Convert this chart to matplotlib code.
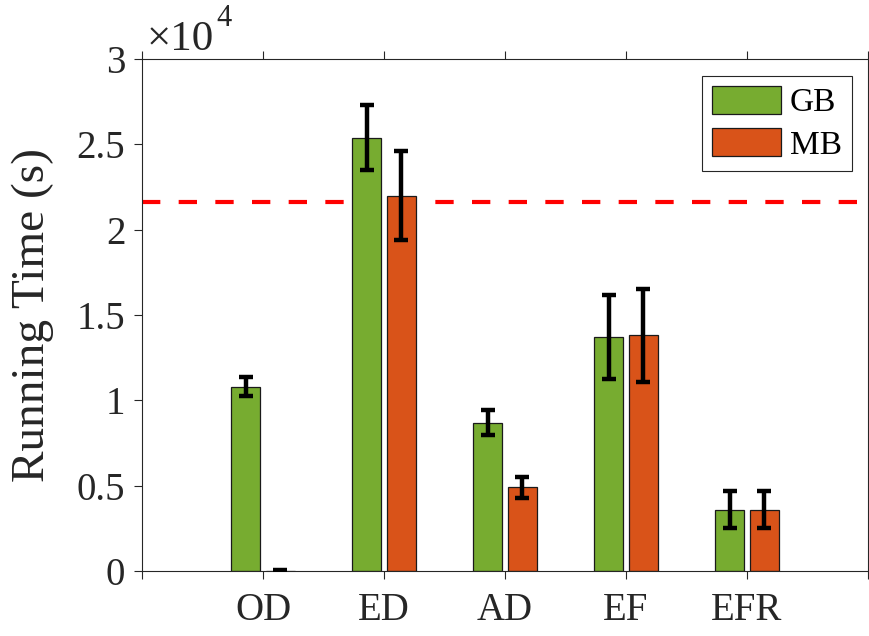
import matplotlib
matplotlib.use("Agg")
import matplotlib.pyplot as plt
import numpy as np

plt.rcParams['font.family'] = ['Liberation Serif', 'DejaVu Serif']

categories = ['OD', 'ED', 'AD', 'EF', 'EFR']
gb_values = [10800, 25400, 8700, 13700, 3600]
gb_errors = [550, 1900, 750, 2450, 1100]
mb_values = [20, 22000, 4900, 13800, 3600]
mb_errors = [40, 2600, 600, 2750, 1100]
threshold = 21600
series_labels = ['GB', 'MB']

GREEN = '#77AC30'
ORANGE = '#D95319'
AXCOL = '#262626'

W, H = 870, 636
fig = plt.figure(figsize=(W / 100, H / 100), dpi=100)
ax = fig.add_axes([142 / W, 1 - 571 / H, (868 - 142) / W, (571 - 59) / H])

x = np.arange(1, len(categories) + 1)
off = 0.144
bw = 0.24

ax.axhline(threshold, color='#FF0000', lw=3, linestyle=(0, (4.4, 4.4)), zorder=1)

err_kw = dict(ecolor='black', elinewidth=3.2, capsize=5, capthick=3.2, zorder=4)
ax.bar(x - off, gb_values, width=bw, color=GREEN, edgecolor='#1a1a1a', linewidth=0.9,
       label=series_labels[0], zorder=2)
ax.bar(x + off, mb_values, width=bw, color=ORANGE, edgecolor='#1a1a1a', linewidth=0.9,
       label=series_labels[1], zorder=2)
ax.errorbar(x - off, gb_values, yerr=gb_errors, fmt='none', **err_kw)
ax.errorbar(x + off, mb_values, yerr=mb_errors, fmt='none', **err_kw)

ax.set_xlim(0, len(categories) + 1)
ax.set_ylim(0, 30000)
ax.set_xticks(np.arange(0, len(categories) + 2))
ax.set_xticklabels([''] + categories + [''])
yt = np.arange(0, 30001, 5000)
ax.set_yticks(yt)
ax.set_yticklabels(['0', '0.5', '1', '1.5', '2', '2.5', '3'])

ax.tick_params(axis='both', direction='out', length=6, width=0.8, color=AXCOL,
               labelsize=28, labelcolor=AXCOL, top=True, right=True)
ax.tick_params(axis='x', pad=9)
ax.tick_params(axis='y', pad=6)
for s in ax.spines.values():
    s.set_color(AXCOL)
    s.set_linewidth(0.8)

ax.set_ylabel('Running Time (s)', fontsize=34, color=AXCOL, labelpad=16)

fig.text(147 / W, 1 - 50 / H, '×10', fontsize=31, color=AXCOL, ha='left', va='baseline')
fig.text(216 / W, 1 - 26 / H, '4', fontsize=22, color=AXCOL, ha='left', va='baseline')

leg = ax.legend(loc='upper right', bbox_to_anchor=((852 - 142) / (868 - 142), 1 - (76 - 59) / (571 - 59)),
                fontsize=24, frameon=True, fancybox=False, framealpha=1,
                handlelength=2.05, handleheight=0.9, handletextpad=0.28,
                labelspacing=0.3, borderpad=0.3, borderaxespad=0)
leg.get_frame().set_edgecolor(AXCOL)
leg.get_frame().set_linewidth(0.8)
for t in leg.get_texts():
    t.set_color('black')

fig.savefig('out.png', dpi=100)
